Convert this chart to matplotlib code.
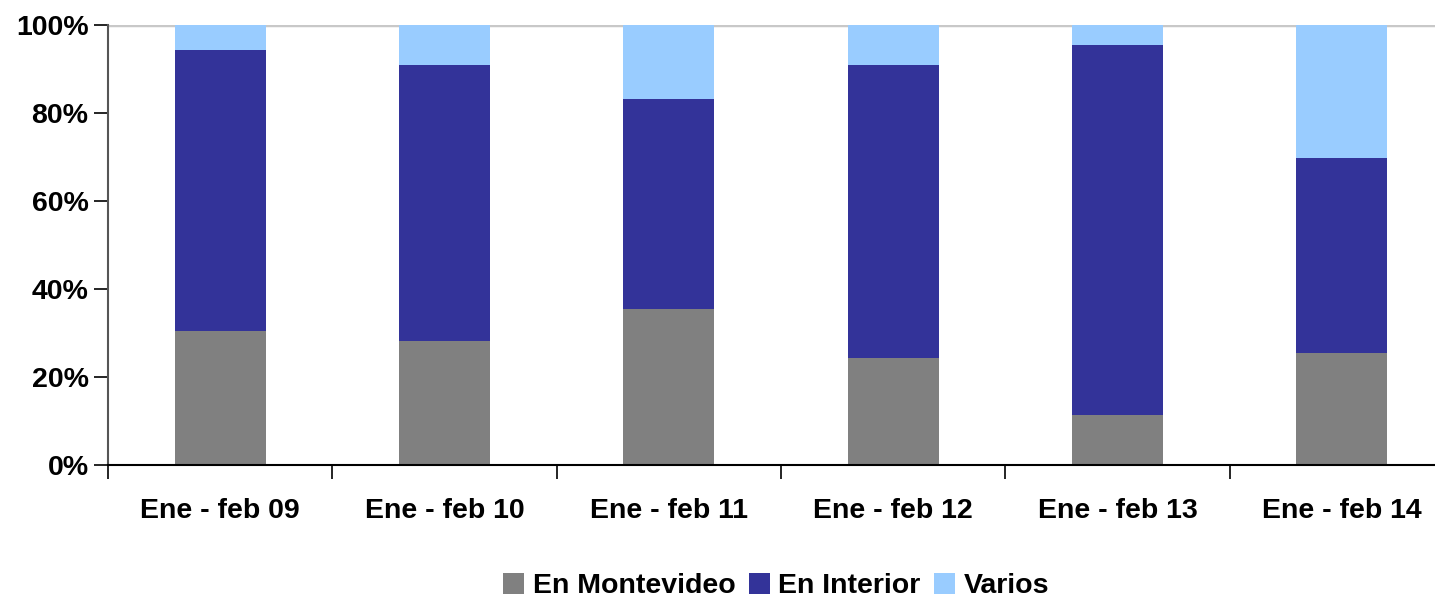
import matplotlib
matplotlib.use('Agg')
import matplotlib.pyplot as plt
import numpy as np

# Data (percent shares)
categories = ['Ene - feb 09', 'Ene - feb 10', 'Ene - feb 11',
              'Ene - feb 12', 'Ene - feb 13', 'Ene - feb 14']
montevideo = [30.5, 28.2, 35.5, 24.3, 11.4, 25.5]
interior = [63.8, 62.7, 47.7, 66.6, 84.1, 44.3]
varios = [5.7, 9.1, 16.8, 9.1, 4.5, 30.2]

plt.rcParams['font.family'] = ['Liberation Sans', 'DejaVu Sans']
plt.rcParams['font.weight'] = 'bold'
FS = 20.5

fig = plt.figure(figsize=(14.35, 6), dpi=100)
ax = fig.add_axes([108 / 1435, 135 / 600, 1346 / 1435, 440 / 600])

x = np.arange(len(categories))
w = 0.405
bottom2 = np.array(montevideo)
bottom3 = bottom2 + np.array(interior)

ax.bar(x, montevideo, w, color='#808080', label='En Montevideo', zorder=2)
ax.bar(x, interior, w, bottom=bottom2, color='#333399', label='En Interior', zorder=2)
ax.bar(x, varios, w, bottom=bottom3, color='#99CCFF', label='Varios', zorder=2)

ax.axhline(100, color='#c8c8c8', lw=2.5, zorder=1)

ax.set_xlim(-0.5, len(categories) - 0.5)
ax.set_ylim(0, 100)
ax.set_yticks(range(0, 101, 20))
ax.set_yticklabels([f'{v}%' for v in range(0, 101, 20)], fontsize=FS, fontweight='bold')

# category labels centred, ticks at the boundaries
ax.set_xticks(x)
ax.set_xticklabels(categories, fontsize=FS, fontweight='bold')
ax.tick_params(axis='x', which='major', length=0, pad=24)
ax.set_xticks(np.arange(-0.5, len(categories), 1), minor=True)
ax.tick_params(axis='x', which='minor', length=10, width=1.2, direction='out')
ax.tick_params(axis='y', length=10, width=1.2, direction='out', pad=4, colors='black')

for s in ['top', 'right']:
    ax.spines[s].set_visible(False)
ax.spines['left'].set_color('#555555')
ax.spines['left'].set_linewidth(1.5)
ax.spines['bottom'].set_color('black')
ax.spines['bottom'].set_linewidth(1.5)

fig.legend(loc='center', bbox_to_anchor=(776 / 1435, 14 / 600), ncol=3,
           frameon=False, handlelength=0.75, handleheight=0.8,
           handletextpad=0.3, columnspacing=0.45, borderpad=0.2,
           prop={'weight': 'bold', 'size': FS})

plt.savefig('out.png', dpi=100)
plt.close()
